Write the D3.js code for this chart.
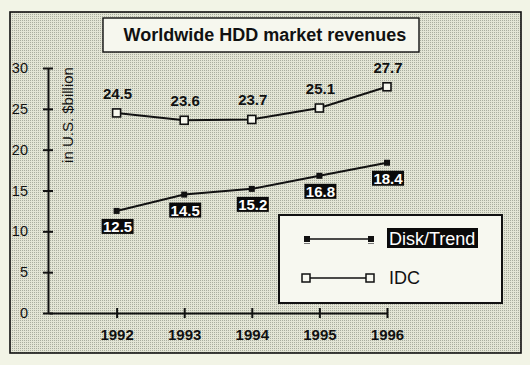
<!DOCTYPE html>
<html><head><meta charset="utf-8">
<script src="https://cdn.jsdelivr.net/npm/d3@7"></script>
<style>html,body{margin:0;padding:0;background:#f2f4e6;}svg{display:block;}</style>
</head><body>
<svg id="c" width="530" height="365"></svg>
<script>
const years = [1992, 1993, 1994, 1995, 1996];
const diskTrend = [12.5, 14.5, 15.2, 16.8, 18.4];
const idc = [24.5, 23.6, 23.7, 25.1, 27.7];
const yTicks = [0, 5, 10, 15, 20, 25, 30];
const title = "Worldwide HDD market revenues";
const yLabel = "in U.S. $billion";
const seriesNames = ["Disk/Trend", "IDC"];

const font = "'Liberation Sans', Arial, Helvetica, sans-serif";
const svg = d3.select("#c");

const defs = svg.append("defs");
const pat = defs.append("pattern").attr("id","stip").attr("width",2).attr("height",2).attr("patternUnits","userSpaceOnUse");
pat.append("rect").attr("width",2).attr("height",2).attr("fill","#e3e5d5");
pat.append("rect").attr("width",1).attr("height",1).attr("fill","#a9ad9e");

svg.append("rect").attr("width",530).attr("height",365).attr("fill","#f2f4e6");
svg.append("rect").attr("x",10).attr("y",12).attr("width",511).attr("height",341)
  .attr("fill","url(#stip)").attr("stroke","#111").attr("stroke-width",1.6);

// title
svg.append("rect").attr("x",103).attr("y",18).attr("width",316).attr("height",34)
  .attr("fill","#f6f7ee").attr("stroke","#111").attr("stroke-width",1.4);
svg.append("text").attr("x",265).attr("y",41).attr("text-anchor","middle")
  .attr("font-family",font).attr("font-weight","bold").attr("font-size",18).attr("fill","#111").text(title);

const x = d3.scaleLinear().domain([1991, 1996]).range([49, 387]);
const y = d3.scaleLinear().domain([0, 30]).range([313, 68]);

// y axis
const ya = svg.append("g").attr("transform","translate(48,0)")
  .call(d3.axisLeft(y).tickValues(yTicks).tickSizeOuter(0).tickSizeInner(5).tickPadding(15));
ya.select(".domain").attr("stroke","#111").attr("stroke-width",2);
ya.selectAll(".tick line").attr("x1",-5).attr("x2",5).attr("stroke","#111").attr("stroke-width",2);
ya.selectAll(".tick text").attr("font-family",font).attr("font-size",14.5).attr("fill","#111");

// x axis
const xa = svg.append("g").attr("transform","translate(0,313)")
  .call(d3.axisBottom(x).tickValues(years).tickFormat(d3.format("d")).tickSizeOuter(0).tickSizeInner(5));
xa.select(".domain").attr("stroke","#111").attr("stroke-width",2);
xa.selectAll(".tick line").attr("y1",-5).attr("y2",5).attr("stroke","#111").attr("stroke-width",2);
xa.selectAll(".tick text").attr("y",27).attr("dy",0).attr("font-family",font).attr("font-weight","bold")
  .attr("font-size",15).attr("fill","#111");

// y label
svg.append("text").attr("transform","translate(73,115) rotate(-90)").attr("text-anchor","middle")
  .attr("font-family",font).attr("font-size",15).attr("fill","#111").text(yLabel);

const line = d3.line().x((d,i)=>x(years[i])).y(d=>y(d));

// IDC
svg.append("path").datum(idc).attr("d",line).attr("fill","none").attr("stroke","#111").attr("stroke-width",2);
svg.selectAll(".idcm").data(idc).enter().append("rect")
  .attr("x",(d,i)=>x(years[i])-4).attr("y",d=>y(d)-4).attr("width",8).attr("height",8)
  .attr("fill","#f6f7ee").attr("stroke","#111").attr("stroke-width",1.6);
svg.selectAll(".idcl").data(idc).enter().append("text")
  .attr("x",(d,i)=>x(years[i])+1).attr("y",d=>y(d)-14).attr("text-anchor","middle")
  .attr("font-family",font).attr("font-weight","bold").attr("font-size",15).attr("fill","#111")
  .text(d=>d.toFixed(1));

// Disk/Trend
svg.append("path").datum(diskTrend).attr("d",line).attr("fill","none").attr("stroke","#111").attr("stroke-width",2);
svg.selectAll(".dtm").data(diskTrend).enter().append("rect")
  .attr("x",(d,i)=>x(years[i])-3).attr("y",d=>y(d)-3).attr("width",6).attr("height",6).attr("fill","#111");
svg.selectAll(".dtb").data(diskTrend).enter().append("rect")
  .attr("x",(d,i)=>x(years[i])-15).attr("y",d=>y(d)+8).attr("width",32).attr("height",15).attr("fill","#0a0a0a");
svg.selectAll(".dtl").data(diskTrend).enter().append("text")
  .attr("x",(d,i)=>x(years[i])+1).attr("y",d=>y(d)+21).attr("text-anchor","middle")
  .attr("font-family",font).attr("font-weight","bold").attr("font-size",15).attr("fill","#fff")
  .text(d=>d.toFixed(1));

// legend
const lg = svg.append("g");
lg.append("rect").attr("x",279).attr("y",215).attr("width",223).attr("height",88)
  .attr("fill","#f7f8f0").attr("stroke","#111").attr("stroke-width",2);
lg.append("line").attr("x1",307).attr("x2",371).attr("y1",239).attr("y2",239).attr("stroke","#111").attr("stroke-width",1.5);
[307,371].forEach(px=>{
  lg.append("rect").attr("x",px-3).attr("y",236).attr("width",6).attr("height",6).attr("fill","#111");
  lg.append("line").attr("x1",px-3).attr("x2",px+3).attr("y1",243.5).attr("y2",243.5).attr("stroke","#777").attr("stroke-width",1);
});
lg.append("rect").attr("x",387).attr("y",228).attr("width",91).attr("height",20).attr("fill","#0a0a0a");
lg.append("text").attr("x",389).attr("y",245).attr("font-family",font).attr("font-size",18).attr("fill","#fff").text(seriesNames[0]);
lg.append("line").attr("x1",306).attr("x2",370).attr("y1",278).attr("y2",278).attr("stroke","#111").attr("stroke-width",1.5);
[306,370].forEach(px=>{
  lg.append("rect").attr("x",px-4).attr("y",274).attr("width",8).attr("height",8)
    .attr("fill","#f7f8f0").attr("stroke","#111").attr("stroke-width",1.5);
});
lg.append("text").attr("x",389).attr("y",284).attr("font-family",font).attr("font-size",18).attr("fill","#111").text(seriesNames[1]);
</script>
</body></html>
